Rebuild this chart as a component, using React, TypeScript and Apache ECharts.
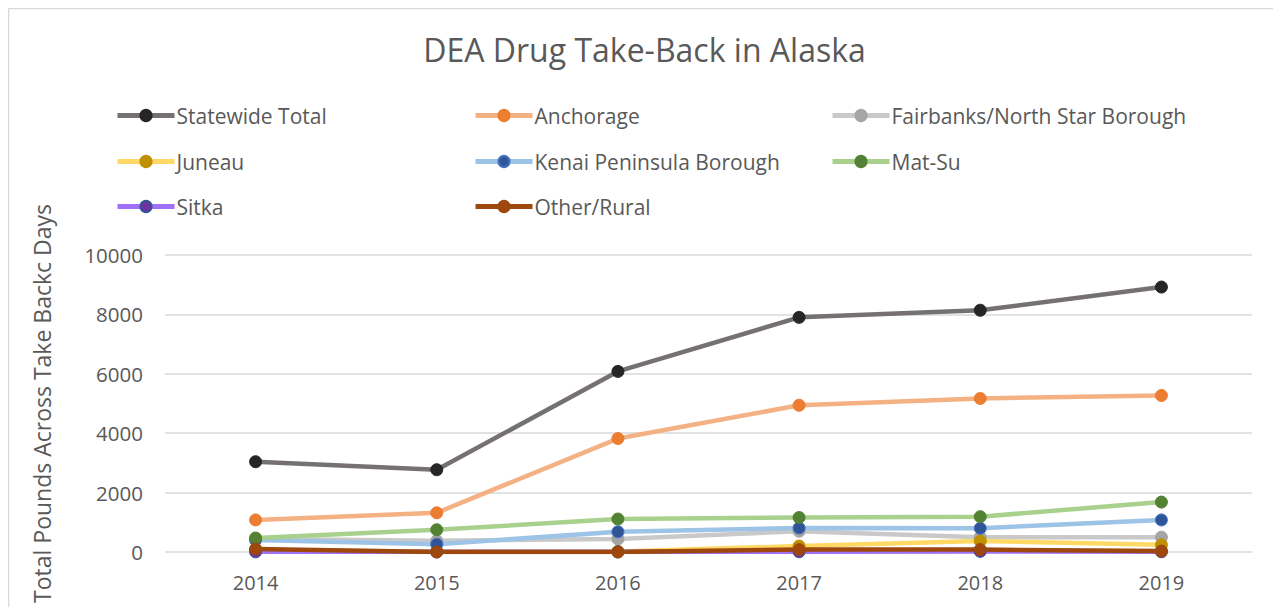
import React, { useEffect, useRef } from "react";
import * as echarts from "echarts";

const years = ["2014", "2015", "2016", "2017", "2018", "2019"];
const statewide = [3040, 2770, 6080, 7900, 8140, 8920];
const anchorage = [1080, 1320, 3820, 4940, 5170, 5270];
const fairbanks = [440, 380, 440, 700, 500, 500];
const juneau = [60, 20, 20, 200, 370, 240];
const kenai = [400, 260, 680, 810, 800, 1080];
const matsu = [470, 750, 1110, 1160, 1190, 1680];
const sitka = [5, 5, 5, 10, 20, 10];
const other = [100, 0, 0, 80, 80, 30];

const seriesDefs = [
  { name: "Statewide Total", data: statewide, line: "#767171", marker: "#262626", border: "#262626" },
  { name: "Anchorage", data: anchorage, line: "#F4B183", marker: "#ED7D31", border: "#ED7D31" },
  { name: "Fairbanks/North Star Borough", data: fairbanks, line: "#C9C9C9", marker: "#A5A5A5", border: "#A5A5A5" },
  { name: "Juneau", data: juneau, line: "#FFD966", marker: "#BF9000", border: "#BF9000" },
  { name: "Kenai Peninsula Borough", data: kenai, line: "#9DC3E6", marker: "#2F5597", border: "#4472C4" },
  { name: "Mat-Su", data: matsu, line: "#A9D18E", marker: "#548235", border: "#548235" },
  { name: "Sitka", data: sitka, line: "#A070F8", marker: "#7030A0", border: "#2F5597" },
  { name: "Other/Rural", data: other, line: "#9E480E", marker: "#9E480E", border: "#9E480E" },
];

const legendCols = [107, 465, 822];
const legendRows = [97, 143, 188];

export default function App() {
  const ref = useRef<HTMLDivElement>(null);
  useEffect(() => {
    if (!ref.current) return;
    const chart = echarts.init(ref.current, undefined, { renderer: "svg" });
    const font = "'Open Sans', sans-serif";
    const textColor = "#595959";
    chart.setOption({
      animation: false,
      backgroundColor: "#ffffff",
      title: {
        text: "DEA Drug Take-Back in Alaska",
        left: "center",
        top: 20,
        textStyle: { fontFamily: font, fontSize: 32, fontWeight: "normal", color: textColor },
      },
      legend: seriesDefs.map((s, i) => ({
        data: [{ name: s.name }],
        left: legendCols[i % 3],
        top: legendRows[Math.floor(i / 3)],
        padding: 0,
        itemWidth: 57,
        itemHeight: 14,
        itemGap: 0,
        lineStyle: { width: 5 },
        textStyle: { fontFamily: font, fontSize: 21, color: textColor, padding: [0, 0, 0, -3] },
      })),
      grid: { left: 157, right: 29, top: 247, bottom: 55, containLabel: false },
      xAxis: {
        type: "category",
        data: years,
        boundaryGap: true,
        axisLine: { show: false },
        axisTick: { show: false },
        axisLabel: { fontFamily: font, fontSize: 20, color: textColor, margin: 20 },
      },
      yAxis: {
        type: "value",
        min: 0,
        max: 10000,
        interval: 2000,
        name: "Total Pounds Across Take Backc Days",
        nameLocation: "middle",
        nameGap: 112,
        nameTextStyle: { fontFamily: font, fontSize: 23, color: textColor },
        axisLine: { show: false },
        axisTick: { show: false },
        axisLabel: {
          fontFamily: font,
          fontSize: 20.5,
          color: textColor,
          margin: 22,
          formatter: (v: number) => String(v),
        },
        splitLine: { lineStyle: { color: "#D9D9D9", width: 1.5 } },
      },
      graphic: [
        { type: "line", shape: { x1: 0.5, y1: 0.5, x2: 1273, y2: 0.5 }, style: { stroke: "#D9D9D9", lineWidth: 1.5 } },
        { type: "line", shape: { x1: 0.5, y1: 0.5, x2: 0.5, y2: 599 }, style: { stroke: "#D9D9D9", lineWidth: 1.5 } },
      ],
      series: seriesDefs.map((s) => ({
        name: s.name,
        type: "line",
        data: s.data,
        symbol: "circle",
        symbolSize: 12,
        lineStyle: { color: s.line, width: 4.5 },
        itemStyle: { color: s.marker, borderColor: s.border, borderWidth: 1 },
      })),
    });
    return () => chart.dispose();
  }, []);
  return <div ref={ref} style={{ width: 1273, height: 599 }} />;
}
